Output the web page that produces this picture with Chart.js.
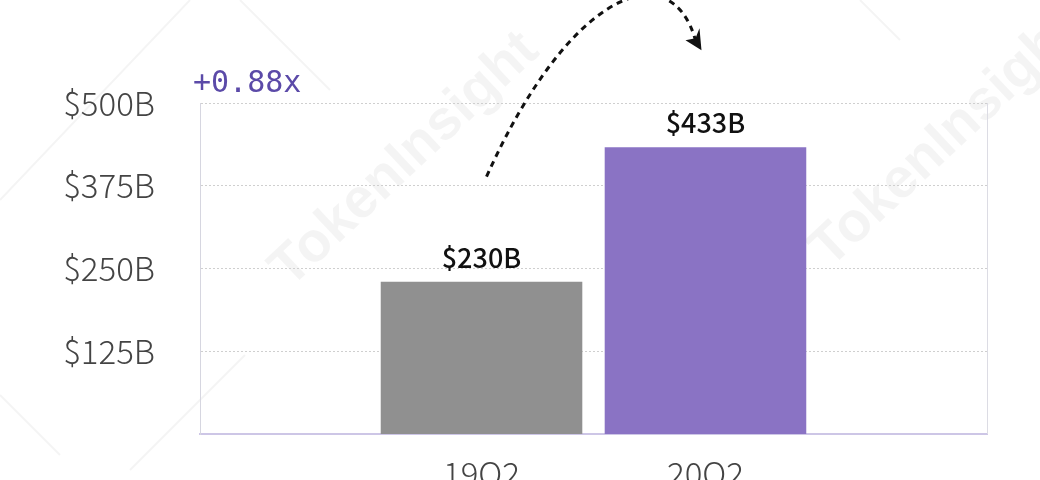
<!DOCTYPE html>
<html>
<head>
<meta charset="utf-8">
<script src="https://cdn.jsdelivr.net/npm/chart.js@4.4.0/dist/chart.umd.min.js"></script>
<style>
  html, body { margin: 0; padding: 0; background: #fff; }
  #wrap { width: 1040px; height: 480px; position: relative; }
</style>
</head>
<body>
<div id="wrap"><canvas id="chart" width="1040" height="480"></canvas></div>
<script>
// data
const quarters = ['19Q2', '20Q2']
const positions = [0, 1]
const volumes = [230, 433]
const barColors = ['#909090', '#8a73c4']
const yTicks = [125, 250, 375, 500]
const growthNote = '+0.88x'

const lightFont = "'Noto Sans CJK SC', 'Noto Sans', sans-serif"

// faint watermark behind everything
const watermark = {
  id: 'watermark',
  beforeDraw(chart) {
    const ctx = chart.ctx
    ctx.save()
    ctx.fillStyle = '#fff'
    ctx.fillRect(0, 0, chart.width, chart.height)
    ctx.fillStyle = 'rgba(0,0,0,0.045)'
    ctx.font = "bold 56px 'Liberation Sans', sans-serif"
    ctx.textAlign = 'center'
    ctx.textBaseline = 'middle'
    const spots = [[405, 160], [945, 140]]
    spots.forEach(([x, y]) => {
      ctx.save()
      ctx.translate(x, y)
      ctx.rotate(-Math.PI * 0.24)
      ctx.fillText('TokenInsight', 0, 0)
      ctx.restore()
    })
    ctx.strokeStyle = 'rgba(0,0,0,0.045)'
    ctx.lineWidth = 2
    ctx.beginPath()
    ctx.moveTo(0, 200); ctx.lineTo(190, 0)
    ctx.moveTo(240, 0); ctx.lineTo(330, 90)
    ctx.moveTo(860, 0); ctx.lineTo(900, 40)
    ctx.moveTo(130, 470); ctx.lineTo(245, 355)
    ctx.moveTo(0, 395); ctx.lineTo(60, 455)
    ctx.stroke()
    ctx.restore()
  }
}

// value labels, right border, growth note and the dotted arrow
const extras = {
  id: 'extras',
  afterDatasetsDraw(chart) {
    const ctx = chart.ctx
    const area = chart.chartArea
    const bars = chart.getDatasetMeta(0).data

    ctx.save()
    ctx.strokeStyle = '#dcdce4'
    ctx.lineWidth = 1
    ctx.beginPath()
    ctx.moveTo(area.right + 0.5, area.top)
    ctx.lineTo(area.right + 0.5, area.bottom)
    ctx.stroke()

    ctx.fillStyle = '#111'
    ctx.font = "500 27px 'Noto Sans CJK SC', 'Noto Sans', sans-serif"
    ctx.textAlign = 'center'
    ctx.textBaseline = 'alphabetic'
    bars.forEach((bar, i) => {
      ctx.fillText('$' + volumes[i] + 'B', bar.x, bar.y - 14)
    })

    ctx.fillStyle = '#5b4aa8'
    ctx.font = "30px 'DejaVu Sans Mono', monospace"
    ctx.textAlign = 'left'
    ctx.fillText(growthNote, area.left - 7, area.top - 11)

    // dotted arrow from the first bar over to the second
    const a = bars[0], b = bars[1]
    const x0 = a.x + 5, y0 = a.y - 105
    const x3 = b.x - 4, y3 = b.y - 99
    ctx.strokeStyle = '#111'
    ctx.lineWidth = 3
    ctx.setLineDash([6, 5])
    ctx.beginPath()
    ctx.moveTo(x0, y0)
    ctx.bezierCurveTo(x0 + 84, y0 - 188, x3 - 30, y3 - 95, x3 - 6, y3 - 8)
    ctx.stroke()
    ctx.setLineDash([])
    // arrow head
    ctx.fillStyle = '#111'
    ctx.beginPath()
    ctx.moveTo(x3, y3 + 2)
    ctx.lineTo(x3 - 16, y3 - 8)
    ctx.lineTo(x3 - 6, y3 - 10)
    ctx.lineTo(x3 - 2, y3 - 20)
    ctx.closePath()
    ctx.fill()
    ctx.restore()
  }
}

const ctx = document.getElementById('chart').getContext('2d')

new Chart(ctx, {
  type: 'bar',
  data: {
    datasets: [{
      data: positions.map((p, i) => ({ x: p, y: volumes[i] })),
      backgroundColor: barColors,
      borderWidth: 0,
      categoryPercentage: 1,
      barPercentage: 0.9
    }]
  },
  options: {
    responsive: false,
    animation: false,
    events: [],
    layout: { padding: { top: 103, right: 53, left: 0, bottom: 0 } },
    plugins: {
      legend: { display: false },
      tooltip: { enabled: false }
    },
    scales: {
      x: {
        type: 'linear',
        offset: false,
        min: -1.257,
        max: 2.257,
        afterBuildTicks(scale) {
          scale.ticks = positions.map(v => ({ value: v }))
        },
        afterFit(scale) { scale.height = 46 },
        grid: { display: false, drawTicks: false, offset: false },
        border: { color: '#cdc6e6', width: 2 },
        ticks: {
          padding: 20,
          color: '#444',
          font: { family: lightFont, size: 33, weight: '300' },
          callback: v => quarters[positions.indexOf(v)] || ''
        }
      },
      y: {
        min: 0,
        max: 500,
        afterBuildTicks(scale) {
          scale.ticks = yTicks.map(v => ({ value: v }))
        },
        afterFit(scale) {
          scale.width = 200
          scale.paddingTop = 0
          scale.paddingBottom = 0
        },
        grid: {
          drawTicks: false,
          lineWidth: 1,
          color: '#cfcfcf'
        },
        border: { color: '#d6d6e0', width: 1, dash: [2, 2] },
        ticks: {
          padding: 45,
          color: '#444',
          font: { family: lightFont, size: 33, weight: '300' },
          callback: v => '$' + v + 'B'
        }
      }
    }
  },
  plugins: [watermark, extras]
})
</script>
</body>
</html>
